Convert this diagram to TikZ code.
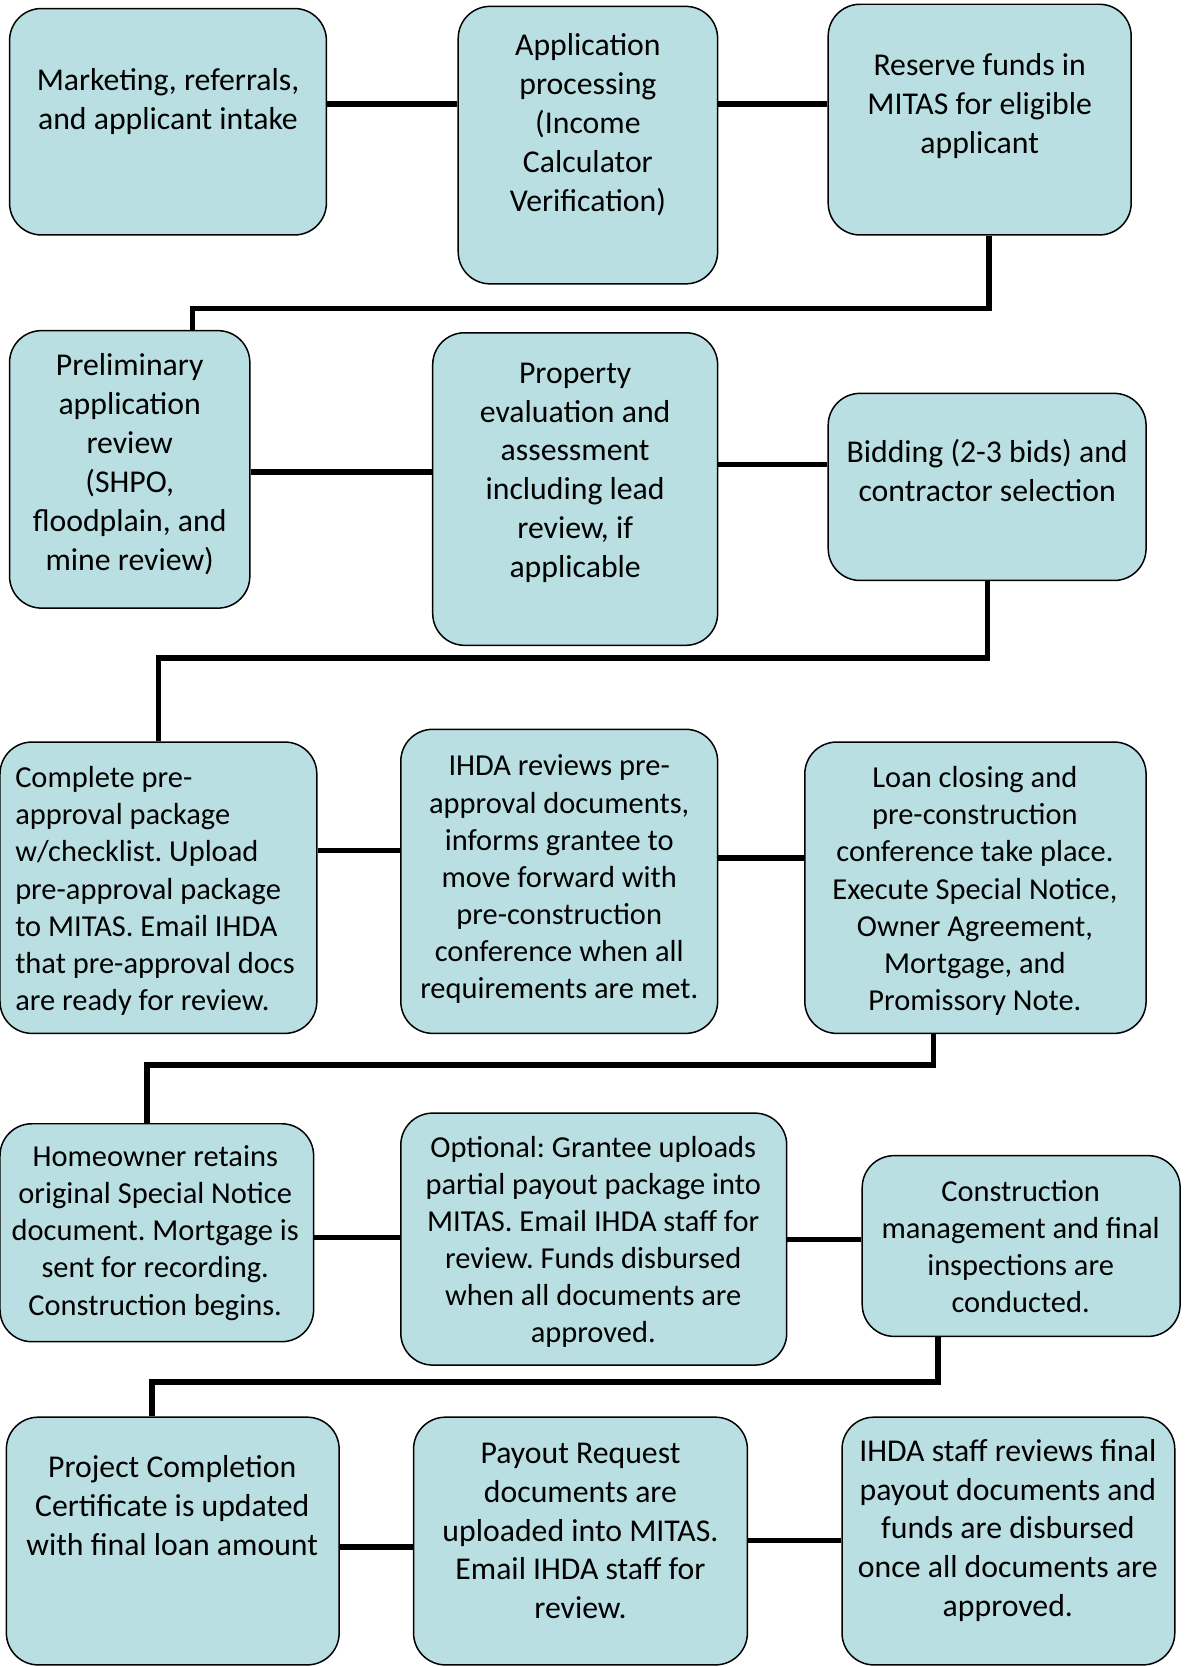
\documentclass[tikz,border=0pt]{standalone}
\usepackage{fontspec}
\setmainfont{Carlito}
\usetikzlibrary{fit}
\definecolor{boxfill}{RGB}{185,223,227}
\frenchspacing

\begin{document}
\begin{tikzpicture}[
  box/.style={draw=black, line width=0.8pt, fill=boxfill, rounded corners=0.6cm, inner sep=0pt},
  txt/.style={align=center, inner sep=0pt, yshift=-1.2pt, font=\fontsize{17}{20.8}\selectfont},
  txtsm/.style={txt, font=\fontsize{16.3}{19.9}\selectfont},
  link/.style={line width=3pt}
]
\begin{scope}[x=0.02cm,y=-0.02cm]
\useasboundingbox (0,0) rectangle (1118,1568);

% row 1
\node[box, fit={(9,8) (307,221)}] (b1) {};
\node[box, fit={(431,6) (675,267)}] (b2) {};
\node[box, fit={(779,4) (1064,221)}] (b3) {};
\node[txt] (t1) at (158,93.5) {Marketing, referrals,\\and applicant intake};
\node[txt] (t2) at (553,115) {Application\\processing\\(Income\\Calculator\\Verification)};
\node[txt] (t3) at (921.5,97.5) {Reserve funds in\\MITAS for eligible\\applicant};

% row 2
\node[box, fit={(9,311) (235,572)}] (b4) {};
\node[box, fit={(407,313) (675,607)}] (b5) {};
\node[box, fit={(779,370) (1078,546)}] (b6) {};
\node[txt] (t4) at (122,434.5) {Preliminary\\application\\review\\(SHPO,\\floodplain, and\\mine review)};
\node[txt] (t5) at (541,442.5) {Property\\evaluation and\\assessment\\including lead\\review, if\\applicable};
\node[txt] (t6) at (928.5,440.5) {Bidding (2-3 bids) and\\contractor selection};

% row 3
\node[box, fit={(0,698) (298,972)}] (b7) {};
\node[box, fit={(377,686) (675,972)}] (b8) {};
\node[box, fit={(757,698) (1078,972)}] (b9) {};
\node[txtsm, align=left, anchor=west] (t7) at (14,836) {Complete pre-\\approval package\\w/checklist. Upload\\pre-approval package\\to MITAS. Email IHDA\\that pre-approval docs\\are ready for review.};
\node[txtsm] (t8) at (526,825) {IHDA reviews pre-\\approval documents,\\informs grantee to\\move forward with\\pre-construction\\conference when all\\requirements are met.};
\node[txtsm] (t9) at (917,836) {Loan closing and\\pre-construction\\conference take place.\\Execute Special Notice,\\Owner Agreement,\\Mortgage, and\\Promissory Note.};

% row 4
\node[box, fit={(0,1057) (295,1262)}] (b10) {};
\node[box, fit={(377,1047) (740,1284)}] (b11) {};
\node[box, fit={(811,1087) (1110,1257)}] (b12) {};
\node[txtsm] (t10) at (146,1157.5) {Homeowner retains\\original Special Notice\\document. Mortgage is\\sent for recording.\\Construction begins.};
\node[txtsm] (t11) at (558,1166) {Optional: Grantee uploads\\partial payout package into\\MITAS. Email IHDA staff for\\review. Funds disbursed\\when all documents are\\approved.};
\node[txtsm] (t12) at (960,1170.5) {Construction\\management and final\\inspections are\\conducted.};

% row 5
\node[box, fit={(6,1333) (319,1566)}] (b13) {};
\node[box, fit={(389,1333) (703,1566)}] (b14) {};
\node[box, fit={(792,1333) (1105,1566)}] (b15) {};
\node[txt] (t13) at (162,1414) {Project Completion\\Certificate is updated\\with final loan amount};
\node[txt] (t14) at (546,1438) {Payout Request\\documents are\\uploaded into MITAS.\\Email IHDA staff for\\review.};
\node[txt] (t15) at (948,1437.5) {IHDA staff reviews final\\payout documents and\\funds are disbursed\\once all documents are\\approved.};

% links
\draw[link] (b1.east |- 0,98) -- (b2.west |- 0,98);
\draw[link] (b2.east |- 0,98) -- (b3.west |- 0,98);
\draw[link] (b3.south -| 930,0) |- (181,290) -- (b4.north -| 181,0); % to row 2
\draw[link] (b4.east |- 0,444) -- (b5.west |- 0,444);
\draw[link] (b5.east |- 0,437) -- (b6.west |- 0,437);
\draw[link] (b6.south -| 929,0) |- (149,619) -- (b7.north -| 149,0); % to row 3
\draw[link] (b7.east |- 0,800) -- (b8.west |- 0,800);
\draw[link] (b8.east |- 0,807) -- (b9.west |- 0,807);
\draw[link] (b9.south -| 878,0) |- (138,1002) -- (b10.north -| 138,0); % to row 4
\draw[link] (b10.east |- 0,1164) -- (b11.west |- 0,1164);
\draw[link] (b11.east |- 0,1166) -- (b12.west |- 0,1166);
\draw[link] (b12.south -| 882,0) |- (143,1300) -- (b13.north -| 143,0); % to row 5
\draw[link] (b13.east |- 0,1455) -- (b14.west |- 0,1455);
\draw[link] (b14.east |- 0,1449) -- (b15.west |- 0,1449);
\end{scope}
\end{tikzpicture}
\end{document}
